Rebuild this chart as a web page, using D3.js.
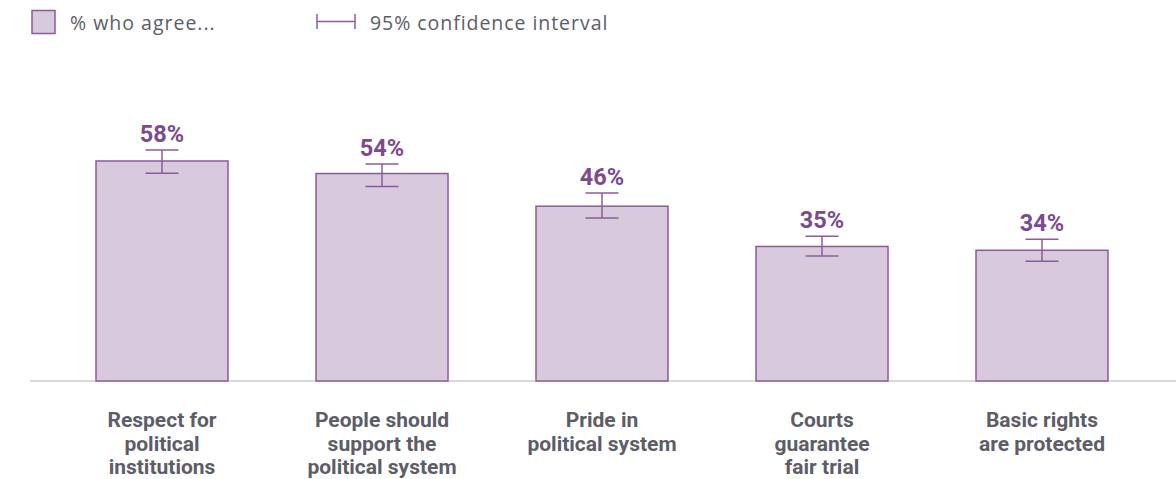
<!DOCTYPE html>
<html><head><meta charset="utf-8">
<script src="https://cdn.jsdelivr.net/npm/d3@7"></script>
<style>body{margin:0;background:#fff}svg{display:block}</style>
</head><body>
<svg id="chart" width="1176" height="479"></svg>
<script>
const categories = [
  ["Respect for","political","institutions"],
  ["People should","support the","political system"],
  ["Pride in","political system"],
  ["Courts","guarantee","fair trial"],
  ["Basic rights","are protected"]
];
const values = [58, 54, 46, 35, 34];
const barValues = [57.9, 54.6, 46.0, 35.4, 34.4];
const ciLow = [54.7, 51.2, 42.9, 32.9, 31.5];
const ciHigh = [60.8, 57.1, 49.5, 38.1, 37.3];
const valueLabels = ["58%","54%","46%","35%","34%"];

const svg = d3.select("#chart");
const purple = "#8c5b9c", fill = "#d8c9dd", labelColor = "#7b4b8c", grey = "#5d5d68";

const x = d3.scaleBand().domain(d3.range(categories.length)).range([52, 1152]).paddingInner(0.4).paddingOuter(0.2);
const y = d3.scaleLinear().domain([0, 100]).range([381, 1]);

// axis baseline
svg.append("line").attr("x1", 30).attr("x2", 1176).attr("y1", y(0)).attr("y2", y(0))
  .attr("stroke", "#b3b3b3").attr("stroke-width", 1.2);

const g = svg.append("g");
g.selectAll("rect.bar").data(barValues).join("rect")
  .attr("x", (d,i) => x(i)).attr("width", x.bandwidth())
  .attr("y", d => y(d)).attr("height", d => y(0) - y(d))
  .attr("fill", fill).attr("stroke", purple).attr("stroke-width", 1.5);

const cap = 16.5;
const eb = g.selectAll("g.eb").data(barValues).join("g");
eb.append("line").attr("x1", (d,i)=>x(i)+x.bandwidth()/2).attr("x2", (d,i)=>x(i)+x.bandwidth()/2)
  .attr("y1", (d,i)=>y(ciHigh[i])).attr("y2", (d,i)=>y(ciLow[i])).attr("stroke", purple).attr("stroke-width", 1.5);
eb.append("line").attr("x1", (d,i)=>x(i)+x.bandwidth()/2-cap).attr("x2", (d,i)=>x(i)+x.bandwidth()/2+cap)
  .attr("y1", (d,i)=>y(ciHigh[i])).attr("y2", (d,i)=>y(ciHigh[i])).attr("stroke", purple).attr("stroke-width", 1.5);
eb.append("line").attr("x1", (d,i)=>x(i)+x.bandwidth()/2-cap).attr("x2", (d,i)=>x(i)+x.bandwidth()/2+cap)
  .attr("y1", (d,i)=>y(ciLow[i])).attr("y2", (d,i)=>y(ciLow[i])).attr("stroke", purple).attr("stroke-width", 1.5);

g.selectAll("text.val").data(valueLabels).join("text")
  .attr("x", (d,i)=>x(i)+x.bandwidth()/2).attr("y", (d,i)=>y(ciHigh[i]) - 8)
  .attr("text-anchor", "middle").attr("font-family", "Roboto").attr("font-weight", 700)
  .attr("font-size", 23.5).attr("fill", labelColor).text(d=>d);

const cl = g.selectAll("text.cat").data(categories).join("text")
  .attr("text-anchor", "middle").attr("font-family", "Roboto").attr("font-weight", 700)
  .attr("font-size", 21).attr("fill", grey);
cl.each(function(lines, i){
  d3.select(this).selectAll("tspan").data(lines).join("tspan")
    .attr("x", x(i)+x.bandwidth()/2).attr("y", (d,j)=>427 + j*23.5).text(d=>d);
});

// legend
const lg = svg.append("g");
lg.append("rect").attr("x", 32).attr("y", 10.5).attr("width", 23).attr("height", 23)
  .attr("fill", fill).attr("stroke", purple).attr("stroke-width", 1.5);
lg.append("text").attr("x", 70).attr("y", 30).attr("font-family", "Open Sans").attr("font-size", 19.5)
  .attr("letter-spacing", 1).attr("fill", grey).text("% who agree...");
lg.append("line").attr("x1", 317).attr("x2", 355).attr("y1", 21.5).attr("y2", 21.5).attr("stroke", purple).attr("stroke-width", 1.5);
lg.append("line").attr("x1", 317).attr("x2", 317).attr("y1", 14).attr("y2", 29).attr("stroke", purple).attr("stroke-width", 1.5);
lg.append("line").attr("x1", 355).attr("x2", 355).attr("y1", 14).attr("y2", 29).attr("stroke", purple).attr("stroke-width", 1.5);
lg.append("text").attr("x", 370).attr("y", 30).attr("font-family", "Open Sans").attr("font-size", 19.5)
  .attr("letter-spacing", 0.95).attr("fill", grey).text("95% confidence interval");
</script>
</body></html>
